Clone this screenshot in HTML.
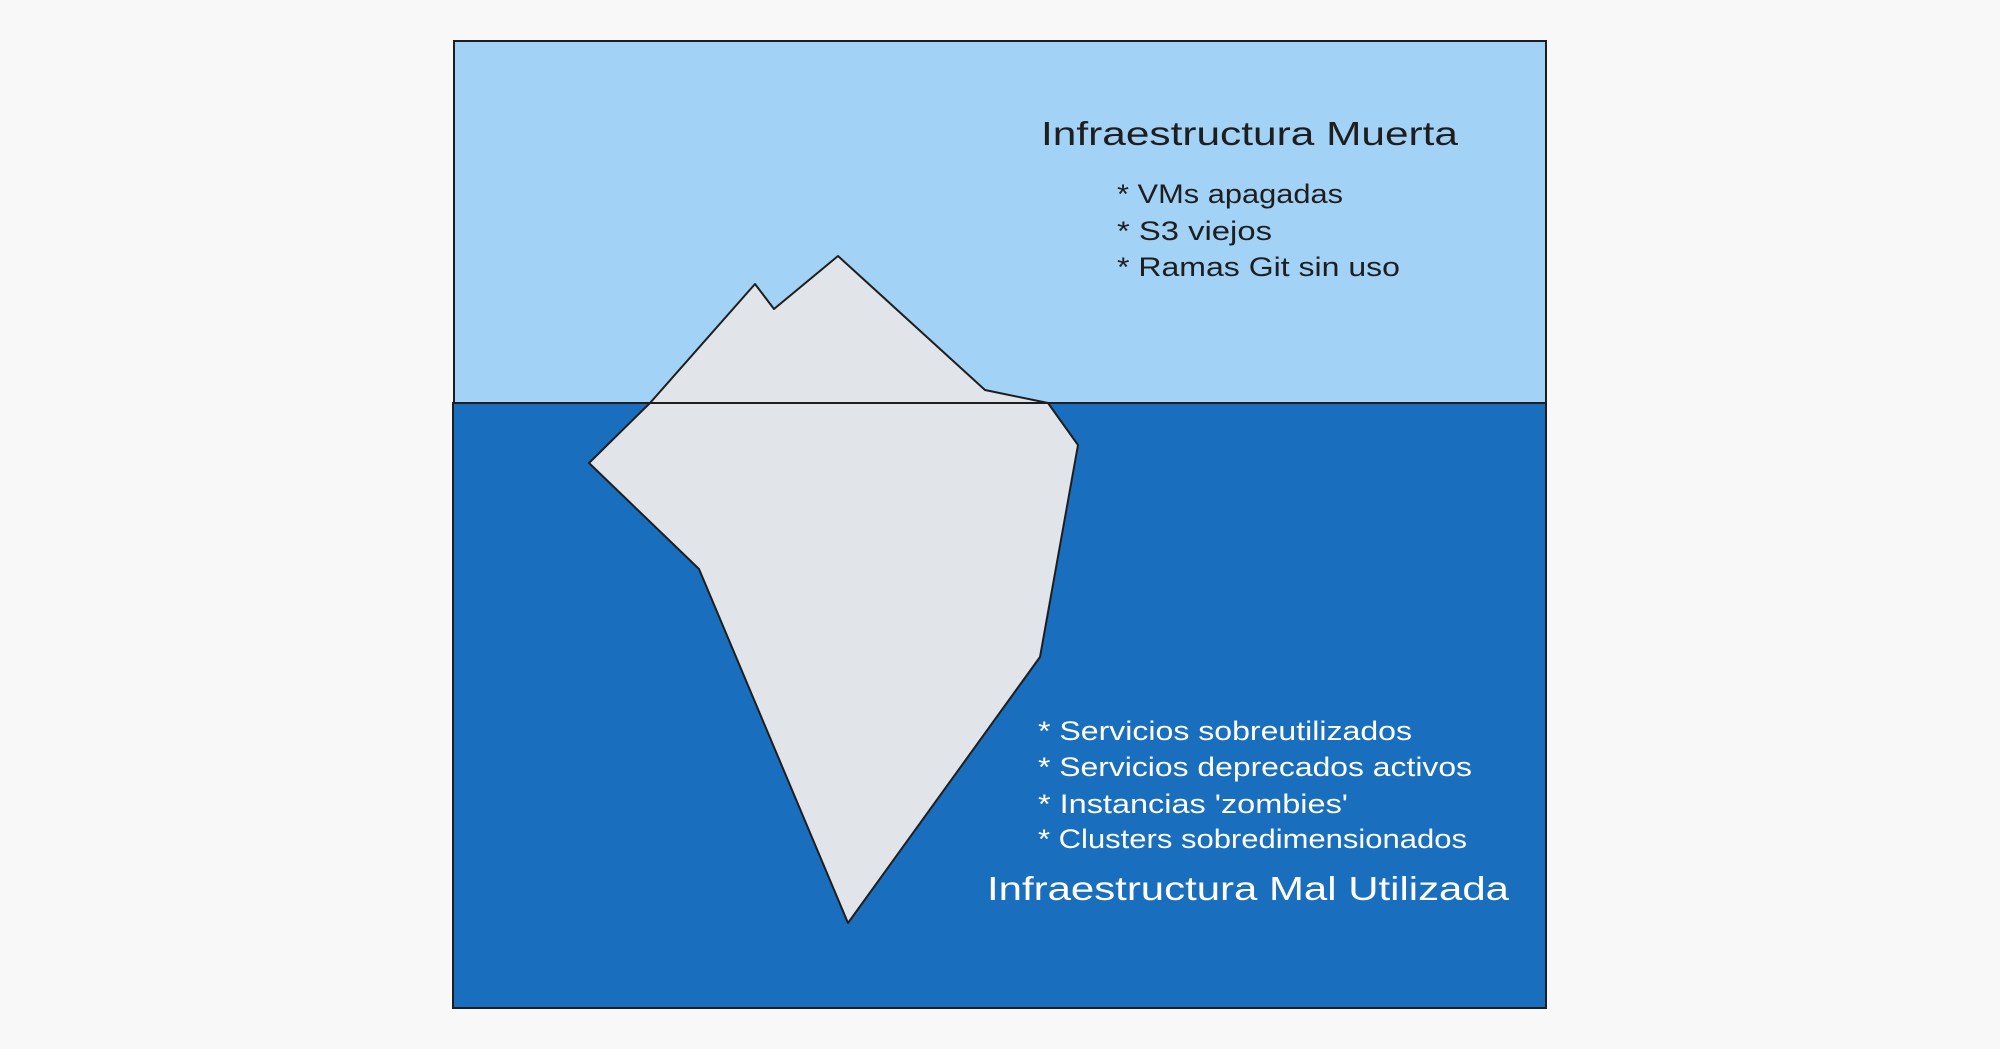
<!DOCTYPE html>
<html><head><meta charset="utf-8"><style>
html,body{margin:0;padding:0;background:#f8f8f8;}
svg{display:block;}
text{font-family:"Liberation Sans",sans-serif;}
</style></head><body>
<svg width="2000" height="1049" viewBox="0 0 2000 1049" xmlns="http://www.w3.org/2000/svg">
<rect width="2000" height="1049" fill="#f8f8f8"/>
<rect x="454" y="41" width="1092" height="362" fill="#a2d2f6" stroke="#1e1e1e" stroke-width="2"/>
<rect x="453" y="403" width="1093" height="605" fill="#1a6ebe" stroke="#1e1e1e" stroke-width="2"/>
<polygon points="650,403 755,284 774,309 838,256 985,390 1048,403 1078,445 1040,657 848,923 699,569 589,463" fill="#e1e4e8" stroke="#1e1e1e" stroke-width="2" stroke-linejoin="round"/>
<line x1="650" y1="403" x2="1048" y2="403" stroke="#1e1e1e" stroke-width="2"/>
<text x="1041" y="145" font-size="33" textLength="417" lengthAdjust="spacingAndGlyphs" fill="#1e1e1e">Infraestructura Muerta</text>
<g font-size="27" fill="#1e1e1e">
<text x="1117" y="203" textLength="226" lengthAdjust="spacingAndGlyphs">* VMs apagadas</text>
<text x="1117" y="240" textLength="155" lengthAdjust="spacingAndGlyphs">* S3 viejos</text>
<text x="1117" y="276" textLength="283" lengthAdjust="spacingAndGlyphs">* Ramas Git sin uso</text>
</g>
<g font-size="27" fill="#ffffff">
<text x="1038" y="740" textLength="374" lengthAdjust="spacingAndGlyphs">* Servicios sobreutilizados</text>
<text x="1038" y="776" textLength="434" lengthAdjust="spacingAndGlyphs">* Servicios deprecados activos</text>
<text x="1038" y="813" textLength="310" lengthAdjust="spacingAndGlyphs">* Instancias 'zombies'</text>
<text x="1038" y="848" textLength="429" lengthAdjust="spacingAndGlyphs">* Clusters sobredimensionados</text>
</g>
<text x="987" y="900" font-size="33" textLength="522" lengthAdjust="spacingAndGlyphs" fill="#ffffff">Infraestructura Mal Utilizada</text>
</svg>
</body></html>
